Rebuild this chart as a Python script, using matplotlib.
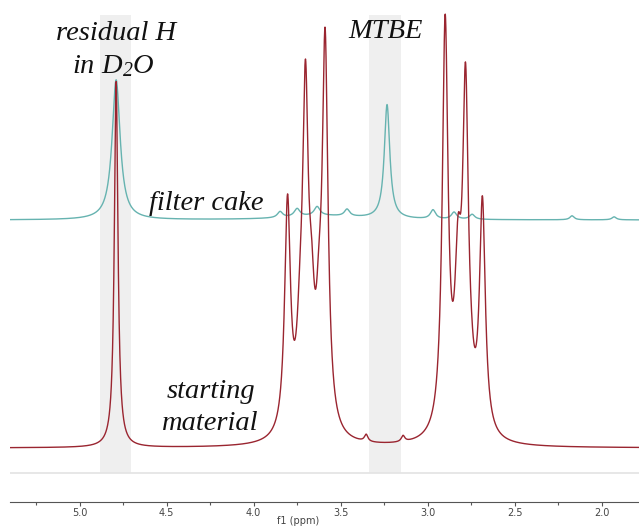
import numpy as np
import matplotlib
matplotlib.use("Agg")
import matplotlib.pyplot as plt

plt.rcParams['mathtext.fontset'] = 'custom'
plt.rcParams['mathtext.it'] = 'Liberation Serif:italic'
plt.rcParams['mathtext.rm'] = 'Liberation Serif:italic'

# ---- data: peak tables (ppm, height, half-width ppm) ----
start_ppm = [4.790, 3.805, 3.733, 3.702, 3.667, 3.624, 3.589, 3.353, 3.141,
             2.899, 2.825, 2.782, 2.750, 2.685]
start_height = [366, 230, 65, 320, 85, 70, 384, 7, 6,
                410, 140, 331, 15, 230]
start_width = [0.0125, 0.020, 0.023, 0.020, 0.020, 0.020, 0.020, 0.012, 0.012,
               0.020, 0.022, 0.020, 0.020, 0.020]

cake_ppm = [4.790, 3.848, 3.750, 3.635, 3.463, 3.233, 2.969, 2.848, 2.744, 2.170, 1.928, 3.60]
cake_height = [140, 6, 8, 9, 7, 114, 9, 7, 5, 4, 3, 4]
cake_width = [0.028, 0.018, 0.02, 0.02, 0.018, 0.019, 0.018, 0.018, 0.018, 0.015, 0.015, 0.25]

start_offset = 54
cake_offset = 282

bands = [(4.882, 4.704), (3.336, 3.152)]
major_ticks = [5.0, 4.5, 4.0, 3.5, 3.0, 2.5, 2.0]
minor_ticks = [5.25, 4.75, 4.25, 3.75, 3.25, 2.75, 2.25]

x = np.linspace(5.40, 1.785, 6000)


def spectrum(ppm, height, width, offset):
    y = np.full_like(x, float(offset))
    for p, h, w in zip(ppm, height, width):
        y += h / (1.0 + ((x - p) / w) ** 2)
    return y


W, H = 639, 527
fig = plt.figure(figsize=(W / 100, H / 100), dpi=100)
ax = fig.add_axes([10 / W, (H - 502) / H, 1 - 10 / W, 502 / H])
ax.set_xlim(5.40, 1.785)
ax.set_ylim(0, 502)

for a, b in bands:
    ax.fill_between([a, b], 29, 487, color='#efefef', lw=0, zorder=0)
ax.axhline(29, color='#e3e3e3', lw=1.2, zorder=1)

ax.plot(x, spectrum(cake_ppm, cake_height, cake_width, cake_offset), color='#66b3b0', lw=1.0, zorder=2)
ax.plot(x, spectrum(start_ppm, start_height, start_width, start_offset), color='#9a2530', lw=1.0, zorder=3)

for s in ['left', 'right', 'top']:
    ax.spines[s].set_visible(False)
ax.spines['bottom'].set_color('#555555')
ax.spines['bottom'].set_linewidth(0.8)
ax.set_yticks([])
ax.set_xticks(major_ticks)
ax.set_xticklabels([f"{t:.1f}" for t in major_ticks])
ax.set_xticks(minor_ticks, minor=True)
ax.tick_params(axis='x', which='major', length=3, width=0.8, color='#555555',
               labelsize=7, labelcolor='#444444', pad=1.5)
ax.tick_params(axis='x', which='minor', length=2, width=0.8, color='#555555')

fig.text(298 / W, 1 - 521 / H, 'f1 (ppm)', ha='center', va='center', fontsize=7, color='#444444')

tkw = dict(ha='center', va='center', fontsize=20.5, family='Liberation Serif', style='italic', color='#111111')
fig.text(116 / W, 1 - 33 / H, 'residual H', **tkw)
fig.text(113 / W, 1 - 66 / H, r'in D$_2$O', **tkw)
fig.text(386 / W, 1 - 32 / H, 'MTBE', **tkw)
fig.text(206 / W, 1 - 203 / H, 'filter cake', **tkw)
fig.text(211 / W, 1 - 391 / H, 'starting', **tkw)
fig.text(210 / W, 1 - 424 / H, 'material', **tkw)

fig.savefig('out.png', dpi=100)
